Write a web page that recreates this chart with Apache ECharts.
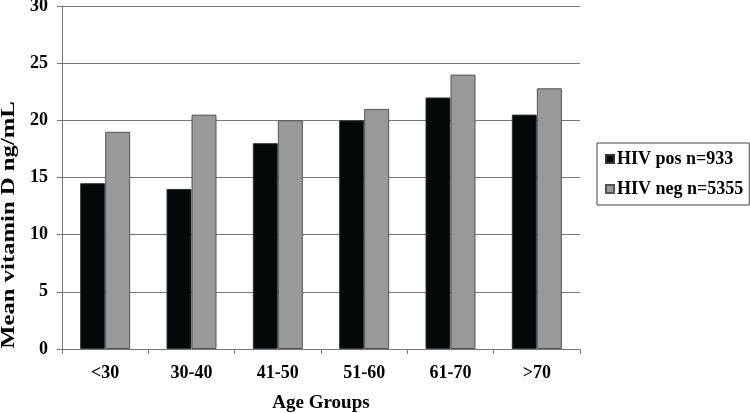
<!DOCTYPE html>
<html><head><meta charset="utf-8">
<script src="https://cdn.jsdelivr.net/npm/echarts@6/dist/echarts.min.js"></script>
<style>html,body{margin:0;padding:0;background:#fff}#c{width:750px;height:413px}</style>
</head><body><div id="c"></div>
<script>
const categories = ['<30','30-40','41-50','51-60','61-70','>70'];
const hivPos = [14.5, 14.0, 18.0, 20.0, 22.0, 20.5];
const hivNeg = [19.0, 20.5, 20.0, 21.0, 24.0, 22.8];
const seriesNames = ['HIV pos n=933','HIV neg n=5355'];
const yTicks = {min:0, max:30, interval:5};
const yTitle = 'Mean vitamin D ng/mL';
const xTitle = 'Age Groups';

const font = 'Liberation Serif, Times New Roman, serif';
const chart = echarts.init(document.getElementById('c'));
chart.setOption({
  animation:false,
  backgroundColor:'#fff',
  textStyle:{fontFamily:font},
  grid:{left:62, right:170, top:6, bottom:64, containLabel:false, outerBoundsMode:'none'},
  legend:{
    orient:'vertical', left:597, top:143, itemWidth:8, itemHeight:8, itemGap:12, icon:'rect',
    padding:[7,6,7,8], borderColor:'#444', borderWidth:1,
    textStyle:{fontFamily:font, fontWeight:'bold', fontSize:18, color:'#000', padding:[0,0,0,-2]},
    data:seriesNames
  },
  graphic:[{
    type:'text', x:9, y:225, rotation:Math.PI/2, scaleX:1.3,
    style:{text:yTitle, font:'bold 19px '+font, fill:'#000', textAlign:'center', textVerticalAlign:'middle'}
  }],
  xAxis:{
    type:'category', data:categories,
    name:xTitle, nameLocation:'middle', nameGap:45,
    nameTextStyle:{fontFamily:font, fontWeight:'bold', fontSize:19, color:'#000'},
    axisLine:{lineStyle:{color:'#777', width:1}},
    axisTick:{show:true, length:5, lineStyle:{color:'#777'}},
    axisLabel:{fontFamily:font, fontWeight:'bold', fontSize:18, color:'#000', margin:15}
  },
  yAxis:{
    type:'value', min:yTicks.min, max:yTicks.max, interval:yTicks.interval,
    axisLine:{show:true, lineStyle:{color:'#777'}},
    axisTick:{show:true, length:5, lineStyle:{color:'#777'}},
    axisLabel:{fontFamily:font, fontWeight:'bold', fontSize:18, color:'#000', margin:14},
    splitLine:{lineStyle:{color:'#777', width:1}}
  },
  series:[
    {name:seriesNames[0], type:'bar', data:hivPos, barWidth:25, barGap:'0%',
     itemStyle:{color:'#050808', borderColor:'#333', borderWidth:1}},
    {name:seriesNames[1], type:'bar', data:hivNeg, barWidth:25,
     itemStyle:{color:'#999999', borderColor:'#555', borderWidth:1}}
  ]
});
</script></body></html>
